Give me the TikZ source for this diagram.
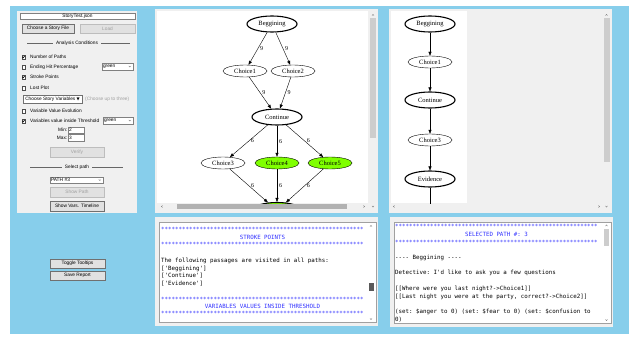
\documentclass[tikz,border=0pt]{standalone}
\usepackage{fontspec}
\setmainfont{Liberation Sans}
\setmonofont{DejaVu Sans Mono}
\newfontfamily\gvfont{Liberation Serif}
\newfontfamily\symfont{DejaVu Sans}
\usetikzlibrary{arrows.meta,shapes.geometric}
\definecolor{winblue}{RGB}{135,206,235}
\definecolor{wingray}{RGB}{240,240,240}
\definecolor{btnface}{RGB}{225,225,225}
\definecolor{btnedge}{RGB}{112,112,112}
\definecolor{offtext}{RGB}{160,160,160}
\definecolor{thumb}{RGB}{205,205,205}
\definecolor{hitgreen}{RGB}{127,255,0}
\definecolor{logblue}{RGB}{50,50,255}
\tikzset{
  ui/.style={font=\fontsize{4.8}{5.5}\selectfont, inner sep=0pt},
  button/.style={ui, draw=btnedge, fill=btnface, minimum width=54pt, minimum height=9.5pt},
  dimbutton/.style={button, draw=offtext!70, text=offtext},
  field/.style={ui, draw=offtext!80!black, fill=white, minimum height=6.5pt, inner xsep=1pt, align=left},
  tickbox/.style={draw=black!70, fill=white, minimum size=3.6pt, inner sep=0pt},
  option/.style={ui, anchor=west},
  divider/.style={ui, fill=wingray, inner xsep=3pt},
  passage/.style={ellipse, draw, font=\gvfont\fontsize{6.5}{7}\selectfont, minimum width=44pt, minimum height=12pt, inner sep=0pt},
  milestone/.style={passage, line width=1.1pt, minimum width=50pt, minimum height=16pt},
  hit/.style={fill=hitgreen},
  weight/.style={font=\gvfont\fontsize{6}{7}\selectfont, right, inner sep=2pt},
  logline/.style={font=\ttfamily\fontsize{5.8}{6}\selectfont, anchor=west, inner sep=0pt},
  logtitle/.style={logline, anchor=center, text=logblue},
  scrollmark/.style={black!55, line width=0.35pt},
}
\newcommand\starrow{**********************************************************}
\newcommand\tickin[1]{\draw[line width=0.6pt] (#1.center) ++(-1.1,-0.1) -- ++(0.8,0.9) -- ++(1.5,-1.8);}
\newcommand\chevron[1]{\draw[black!60, line width=0.3pt] (#1.east) ++(-4.5,-0.6) -- ++(1.2,1.2) -- ++(1.2,-1.2);}
\newcommand\scrollup[1]{\draw[scrollmark] (#1) ++(-1,0.6) -- ++(1,-1.2) -- ++(1,1.2);}
\newcommand\scrolldown[1]{\draw[scrollmark] (#1) ++(-1,-0.6) -- ++(1,1.2) -- ++(1,-1.2);}
\newcommand\scrollleft[1]{\draw[scrollmark] (#1) ++(0.6,-1) -- ++(-1.2,1) -- ++(1.2,1);}
\newcommand\scrollright[1]{\draw[scrollmark] (#1) ++(-0.6,-1) -- ++(1.2,1) -- ++(-1.2,1);}

\begin{document}
\begin{tikzpicture}[x=1pt, y=-1pt, >={Stealth[length=4pt,width=3pt,inset=0pt]}]
  \useasboundingbox (0,0) rectangle (629,337);
  \fill[winblue] (10,6) rectangle (629,334);

  \fill[wingray] (17,11) rectangle (137,213);
  \node[field, minimum width=115pt, minimum height=6pt, align=center] (storyfile) at (77.5,16) {StoryTest.json};
  \node[button, minimum width=52pt, minimum height=9pt] (choose) at (48,28.5) {Choose a Story File};
  \node[dimbutton, minimum width=55pt, minimum height=9pt] (load) at (107.5,28.5) {Load};
  \draw[black!60, line width=0.3pt] (27,43) -- (130,43);
  \node[divider] (cond) at (77,43) {Analysis Conditions};
  \node[tickbox] (cbpaths) at (23.5,57) {};
  \node[option] (paths) at (30,57) {Number of Paths};
  \node[tickbox] (cbending) at (23.5,67) {};
  \node[option] (ending) at (30,67) {Ending Hit Percentage};
  \node[field, text width=29pt] (hitcolor) at (117.5,66.5) {green};
  \node[tickbox] (cbstroke) at (23.5,77) {};
  \node[option] (stroke) at (30,77) {Stroke Points};
  \node[tickbox] (cblost) at (23.5,88) {};
  \node[option] (lost) at (30,88) {Lost Plot};
  \node[field, draw=btnedge, minimum width=59pt, minimum height=8pt, align=center] (varbtn) at (52.5,99) {Choose Story Variables {\symfont\fontsize{4}{5}\selectfont▼}};
  \node[option, text=offtext] (upto) at (85,99) {(Choose up to three)};
  \node[tickbox] (cbevol) at (23.5,111) {};
  \node[option] (evol) at (30,111) {Variable Value Evolution};
  \node[tickbox] (cbthresh) at (23.5,121) {};
  \node[option] (thresh) at (30,121) {Variables value inside Threshold};
  \node[field, text width=28pt] (threshcolor) at (118,120.5) {green};
  \node[ui, anchor=east] (minlbl) at (67.5,130) {Min:};
  \node[field, text width=14pt, minimum height=6.5pt] (minval) at (76,130) {2};
  \node[ui, anchor=east] (maxlbl) at (67.5,137.5) {Max:};
  \node[field, text width=14pt, minimum height=6.5pt] (maxval) at (76,137.5) {3};
  \node[dimbutton, minimum height=10pt] (verify) at (77,152) {Verify};
  \draw[black!60, line width=0.3pt] (30,167) -- (123,167);
  \node[divider] (selpath) at (77,167) {Select path};
  \node[field, text width=51pt] (pathsel) at (76.5,180) {PATH \#3};
  \node[dimbutton, minimum height=10pt] (showpath) at (77,192) {Show Path};
  \node[button, minimum height=10pt] (timeline) at (77,206) {Show Vars. Timeline};
  \tickin{cbpaths}
  \tickin{cbstroke}
  \tickin{cbthresh}
  \chevron{hitcolor}
  \chevron{threshcolor}
  \chevron{pathsel}

  \node[button, minimum width=55pt, minimum height=9pt] (tooltips) at (77.5,263.5) {Toggle Tooltips};
  \node[button, minimum width=55pt, minimum height=9pt] (report) at (77.5,275.5) {Save Report};

  \fill[wingray] (155,9) rectangle (378,213);
  \fill[white] (157,11) rectangle (368,203);
  \fill[thumb] (369.5,18) rectangle (375.5,138);
  \fill[black!30] (177,204) rectangle (347,209);
  \scrollup{373,15}
  \scrollleft{162,206.5}
  \scrollright{364,206.5}
  \scrolldown{373,206.5}
  \begin{scope}
    \clip (157,11) rectangle (368,203);
    \node[milestone] (beg) at (272,24) {Beggining};
    \node[passage] (ch1) at (245,71) {Choice1};
    \node[passage] (ch2) at (293,71) {Choice2};
    \node[milestone] (cont) at (277,117) {Continue};
    \node[passage] (ch3) at (223,163) {Choice3};
    \node[passage, hit] (ch4) at (277,163) {Choice4};
    \node[passage, hit] (ch5) at (330,163) {Choice5};
    \node[milestone, hit] (evid) at (277,210.5) {Evidence};

    \draw[->] (beg) -- node[weight] {9} (ch1);
    \draw[->] (beg) -- node[weight] {9} (ch2);
    \draw[->] (ch1) -- node[weight] {9} (cont);
    \draw[->] (ch2) -- node[weight] {9} (cont);
    \draw[->] (cont) -- node[weight] {6} (ch3);
    \draw[->] (cont) -- node[weight] {6} (ch4);
    \draw[->] (cont) -- node[weight] {6} (ch5);
    \draw[->] (ch3) -- node[weight] {6} (evid);
    \draw[->] (ch4) -- node[weight] {6} (evid);
    \draw[->] (ch5) -- node[weight] {6} (evid);
  \end{scope}

  \fill[wingray] (389,9) rectangle (612,213);
  \fill[white] (391,11) rectangle (467,203);
  \fill[thumb] (603.5,18) rectangle (609.5,162);
  \scrollup{606.5,15}
  \scrollleft{394,206.5}
  \scrollright{599,206.5}
  \scrolldown{606.5,206.5}
  \begin{scope}
    \clip (391,11) rectangle (467,203);
    \node[milestone] (pbeg) at (430,24) {Beggining};
    \node[passage] (pch1) at (430,62) {Choice1};
    \node[milestone] (pcont) at (430,100) {Continue};
    \node[passage] (pch3) at (430,140) {Choice3};
    \node[milestone] (pevid) at (430,179) {Evidence};
    \coordinate (pnext) at (430,214);

    \draw[->] (pbeg) -- (pch1);
    \draw[->] (pch1) -- (pcont);
    \draw[->] (pcont) -- (pch3);
    \draw[->] (pch3) -- (pevid);
    \draw[->] (pevid) -- (pnext);
  \end{scope}

  \fill[wingray] (155,217) rectangle (378,326);
  \draw[offtext, fill=white] (159,222) rectangle (376,322);
  \fill[black!65] (368.5,283) rectangle (373.5,291);
  \scrollup{371,226}
  \scrolldown{371,319}
  \node[logline, text=logblue] (s1) at (161,229) {\starrow};
  \node[logtitle] (strokehead) at (262.5,237) {STROKE POINTS};
  \node[logline, text=logblue] (s2) at (161,244) {\starrow};
  \node[logline] (visited) at (161,261) {The following passages are visited in all paths:};
  \node[logline] (v1) at (161,268.5) {['Beggining']};
  \node[logline] (v2) at (161,276) {['Continue']};
  \node[logline] (v3) at (161,283.5) {['Evidence']};
  \node[logline, text=logblue] (s3) at (161,299) {\starrow};
  \node[logtitle] (varhead) at (262.5,306) {VARIABLES VALUES INSIDE THRESHOLD};
  \node[logline, text=logblue] (s4) at (161,313) {\starrow};

  \fill[wingray] (390,217) rectangle (613,327);
  \draw[offtext, fill=white] (394,222) rectangle (611,323);
  \fill[thumb] (604,229) rectangle (609,246);
  \scrollup{606.5,225.5}
  \scrolldown{606.5,320}
  \node[logline, text=logblue] (r1) at (395,226) {\starrow};
  \node[logtitle] (pathhead) at (496.5,234) {SELECTED PATH \#: 3};
  \node[logline, text=logblue] (r2) at (395,242) {\starrow};
  \node[logline] (l1) at (395,258) {---- Beggining ----};
  \node[logline] (l2) at (395,273) {Detective: I'd like to ask you a few questions};
  \node[logline] (l3) at (395,289) {[[Where were you last night?->Choice1]]};
  \node[logline] (l4) at (395,297) {[[Last night you were at the party, correct?->Choice2]]};
  \node[logline] (l5) at (395,312) {(set: \$anger to 0) (set: \$fear to 0) (set: \$confusion to};
  \node[logline] (l6) at (395,319.5) {0)};
\end{tikzpicture}
\end{document}
